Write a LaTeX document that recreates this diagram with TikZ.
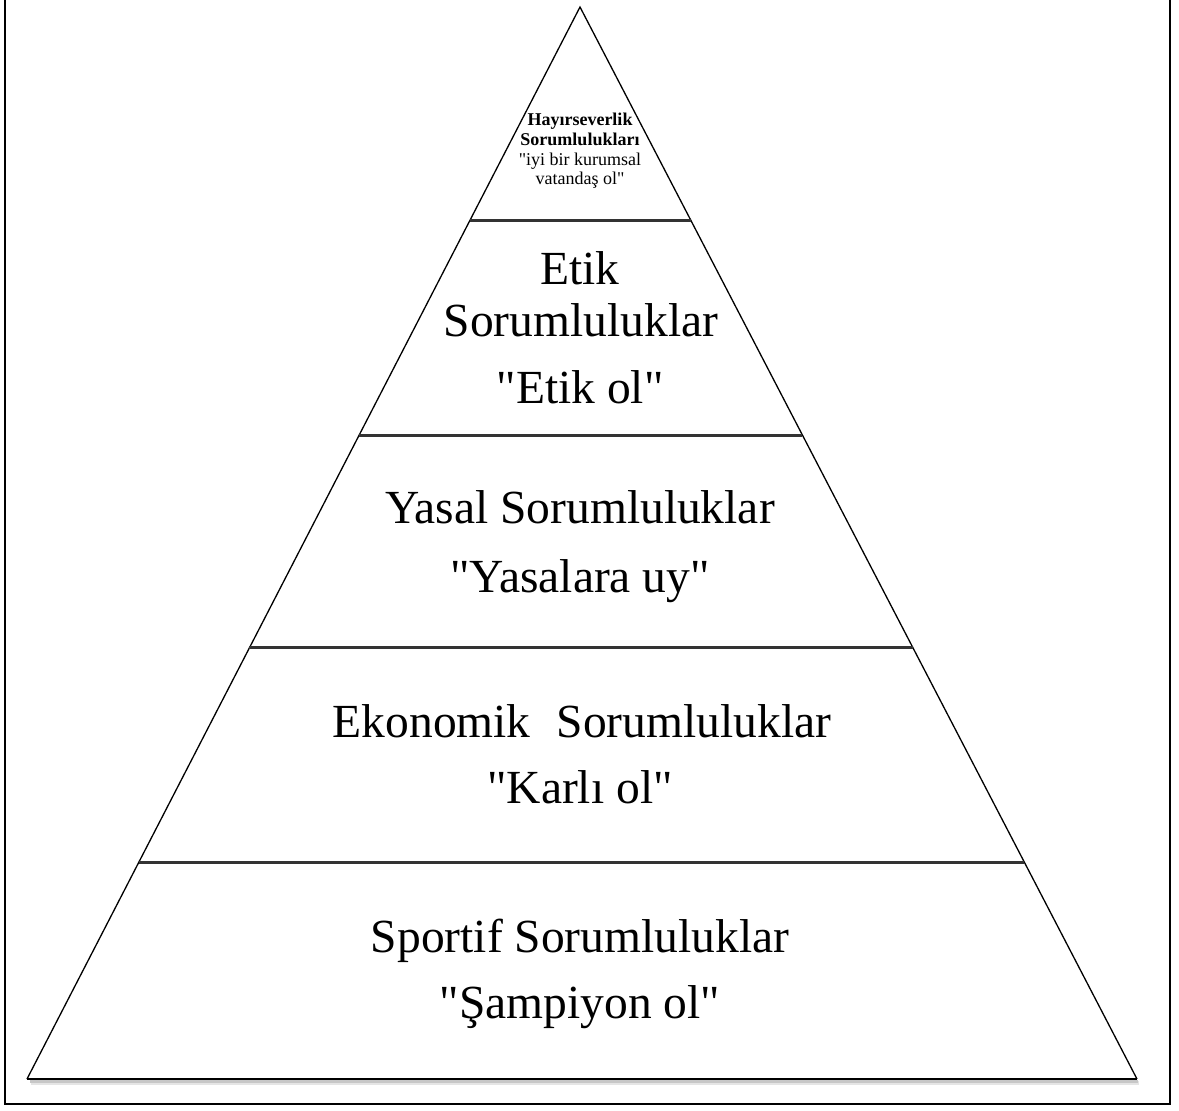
\documentclass[tikz,border=0pt]{standalone}
\usepackage{fontspec}
% plain straight quotes: no TeX ligature mapping
\setmainfont{Liberation Serif}[Ligatures=TeXOff]
\usetikzlibrary{calc}

\tikzset{
  big/.style={anchor=base, inner sep=0pt, font=\fontsize{47.5}{54}\selectfont},
  small/.style={anchor=base, inner sep=0pt, font=\fontsize{18}{20}\selectfont},
  smallbold/.style={small, font=\fontsize{18}{20}\selectfont\bfseries},
  side/.style={line width=1.3pt, black},
  band/.style={line width=3pt, black!80},
  frame/.style={line width=2pt, black},
}

\begin{document}
\begin{tikzpicture}[x=1pt, y=-1pt]
  \useasboundingbox (0,0) rectangle (1179,1111);

  % outer frame (top edge lies outside the page)
  \draw[frame] (5,-10) -- (5,1104) -- (1170,1104) -- (1170,-10);

  % pyramid corners
  \coordinate (A)  at (580,7);
  \coordinate (BL) at (27,1079);
  \coordinate (BR) at (1137,1079);

  % soft shadow under the base
  \draw[line width=4pt, black!10] ($(BL)+(4,4)$) -- ($(BR)+(2,4)$);
  \draw[line width=2.5pt, black!22] ($(BL)+(3,2.5)$) -- ($(BR)+(1,2.5)$);

  % sides and base
  \draw[side, line join=miter] (BL) -- (A) -- (BR);
  \draw[line width=2.8pt, black] (BL) -- (BR);

  % dividing lines between the levels
  \foreach \t in {0.1987, 0.3993, 0.5979, 0.7976}
    \draw[band] ($(A)!\t!(BL)$) -- ($(A)!\t!(BR)$);

  % top level
  \node[smallbold] (h1) at (580,125) {Hayırseverlik};
  \node[smallbold] (h2) at (580,145) {Sorumlulukları};
  \node[small]     (h3) at (580,165) {"iyi bir kurumsal};
  \node[small]     (h4) at (580,184) {vatandaş ol"};

  % ethical level
  \node[big] (e1) at (580,284) {Etik};
  \node[big] (e2) at (581,336) {Sorumluluklar};
  \node[big] (e3) at (580,403) {"Etik ol"};

  % legal level
  \node[big] (y1) at (580,523) {Yasal Sorumluluklar};
  \node[big] (y2) at (580,592) {"Yasalara uy"};

  % economic level
  \node[big] (k1) at (582,737) {Ekonomik\hspace{0.55em}Sorumluluklar};
  \node[big] (k2) at (580,803) {"Karlı ol"};

  % sporting level
  \node[big] (s1) at (580,952) {Sportif Sorumluluklar};
  \node[big] (s2) at (580,1018) {"Şampiyon ol"};
\end{tikzpicture}
\end{document}
